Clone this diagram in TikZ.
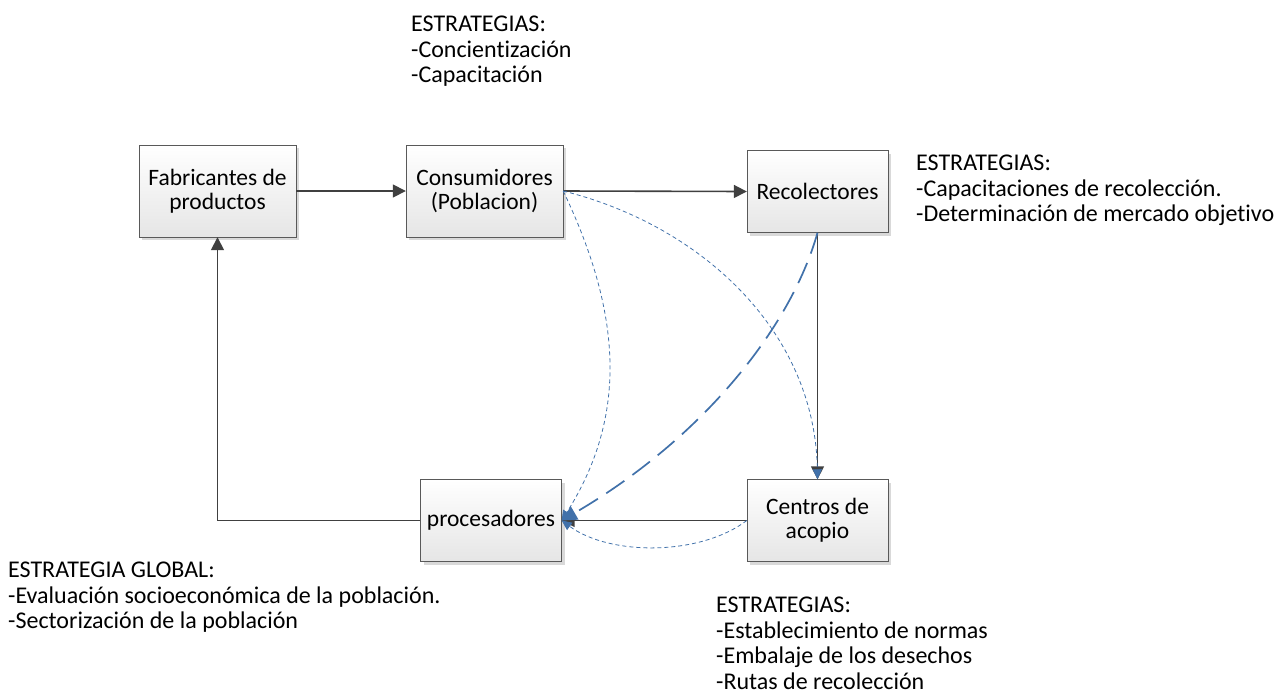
\documentclass[tikz,border=0pt]{standalone}
\usepackage{fontspec}
\setmainfont{Carlito}[Ligatures=NoCommon]
\usetikzlibrary{arrows.meta,shadows}
\definecolor{linkblue}{RGB}{65,113,170}
\definecolor{darkline}{RGB}{64,64,64}

\begin{document}
\begin{tikzpicture}[x=1pt, y=-1pt,
 box/.style={draw=black!65, top color=white, bottom color=black!10,
 minimum width=141pt, minimum height=82pt, align=center, inner sep=2pt,
 font=\fontsize{23.5}{24}\selectfont,
 drop shadow={shadow xshift=3pt, shadow yshift=-3pt, fill=black!15, opacity=1}},
 wide/.style={minimum width=157pt, minimum height=92pt},
 arr/.style={-{Triangle[length=13pt, width=13pt]}, line width=1.6pt, darkline},
 link/.style={linkblue, line width=0.8pt, dash pattern=on 4pt off 3pt,
 -{Triangle[length=10pt, width=9pt]}},
 biglink/.style={linkblue, line width=1.7pt, dash pattern=on 22pt off 10pt,
 -{Triangle[length=15pt, width=15pt]}},
 note/.style={anchor=north west, inner sep=0pt, align=left,
 font=\fontsize{24}{25.5}\selectfont}
]
\useasboundingbox (0,0) rectangle (1285,694);

% Boxes
\node[box, wide] (fab) at (217.5,191) {Fabricantes de\\productos};
\node[box, wide] (cons) at (484.5,191) {Consumidores\\(Poblacion)};
\node[box] (rec) at (817.5,191.5) {Recolectores};
\node[box] (cen) at (817.5,520.5) {Centros de\\acopio};
\node[box] (proc) at (491,520.5) {procesadores};

% Main flow
\draw[arr] (fab) -- (cons);
\draw[arr] (cons.east) -- (rec.west);
\draw[arr] (rec.south) -- (cen.north);
\draw[arr] (cen.west) -- (proc.east);
\draw[arr] (proc.west) -| (fab.south);

% Dashed links
\draw[link] (cons.east) .. controls (625,320) and (625,420) .. (proc.east);
\draw[link] (cons.east) .. controls (700,225) and (815,330) .. (cen.north);
\draw[link] (cen.west) .. controls (700,556) and (610,556) .. (proc.east);
\draw[biglink] (rec.south) .. controls (790,330) and (700,440) .. (proc.east);

% Strategies
\node[note] (s1) at (411,16) {ESTRATEGIAS:\\-Concientización\\-Capacitación};
\node[note] (s2) at (916,155) {ESTRATEGIAS:\\-Capacitaciones de recolección.\\-Determinación de mercado objetivo};
\node[note] (s3) at (8,562) {ESTRATEGIA GLOBAL:\\-Evaluación socioeconómica de la población.\\-Sectorización de la población};
\node[note] (s4) at (716,597) {ESTRATEGIAS:\\-Establecimiento de normas\\-Embalaje de los desechos\\-Rutas de recolección};
\end{tikzpicture}
\end{document}
